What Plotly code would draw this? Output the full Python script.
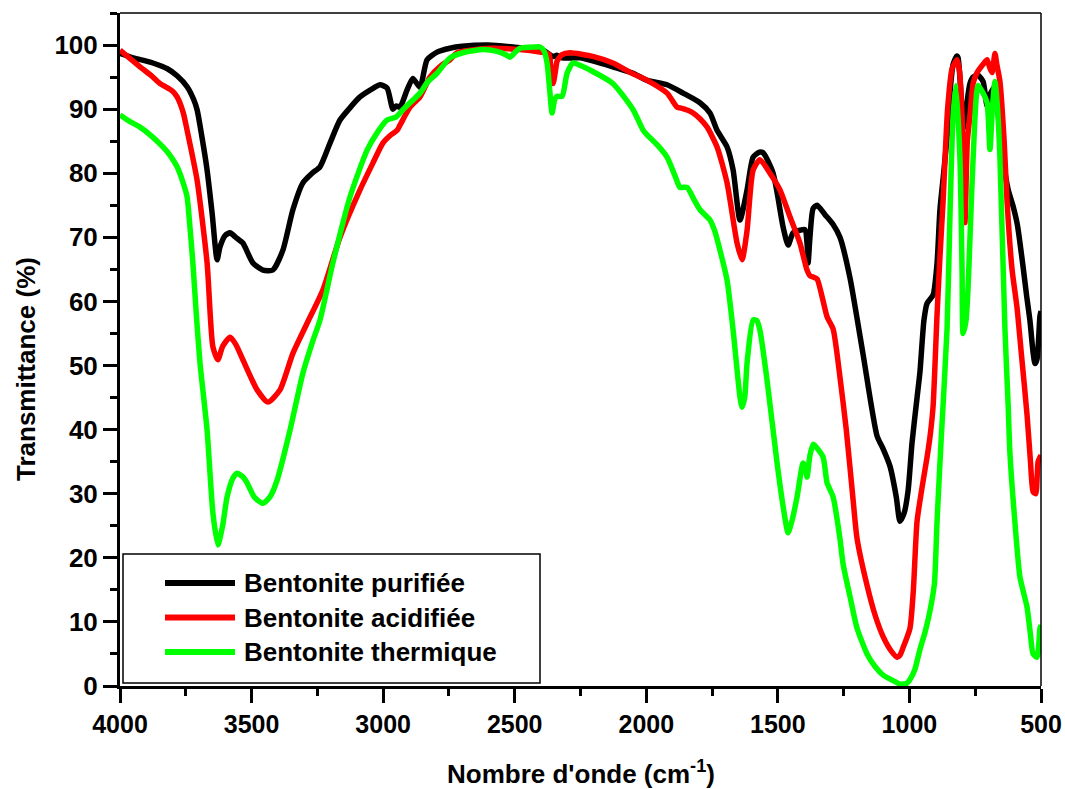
import plotly.graph_objects as go

# ---------------- data ----------------
wn_purifiee = [4000, 3950, 3900, 3875, 3820, 3783, 3745, 3720, 3707, 3690, 3669, 3650, 3631, 3620, 3600,
               3582, 3560, 3533, 3495, 3457, 3419, 3381, 3343, 3305, 3270, 3240, 3202, 3164, 3120, 3088,
               3040, 3012, 2985, 2963, 2950, 2936, 2909, 2887, 2860, 2833, 2795, 2746, 2700, 2600, 2507,
               2420, 2393, 2370, 2354, 2340, 2320, 2252, 2200, 2127, 2050, 1997, 1921, 1860, 1796, 1758,
               1731, 1693, 1670, 1644, 1617, 1594, 1570, 1556, 1518, 1480, 1461, 1442, 1416, 1397, 1389,
               1385, 1378, 1366, 1351, 1320, 1290, 1264, 1226, 1176, 1123, 1100, 1074, 1050, 1036, 1020,
               1005, 990, 971, 960, 945, 933, 910, 895, 884, 870, 857, 845, 834, 820, 815,
               805, 796, 785, 770, 758, 740, 720, 705, 694, 675, 660, 645, 625, 607, 590,
               569, 555, 542, 530, 523, 515, 504, 500]
T_purifiee = [98.7, 98.0, 97.5, 97.2, 96.3, 95.2, 93.5, 91.5, 89.9, 86.0, 80.5, 73.8, 66.5, 68.5, 70.3,
              70.7, 70.0, 69.1, 66.0, 64.9, 64.9, 68.0, 74.3, 78.5, 80.0, 81.0, 84.7, 88.3, 90.5, 91.9,
              93.2, 93.8, 93.3, 90.0, 90.5, 90.3, 93.0, 94.8, 93.4, 97.7, 98.9, 99.5, 99.8, 100.0, 99.7,
              99.3, 99.2, 98.6, 98.2, 98.4, 98.0, 98.0, 97.5, 96.6, 95.6, 94.5, 93.8, 92.5, 91.0, 89.4,
              86.7, 84.1, 80.5, 72.7, 77.4, 82.5, 83.3, 83.2, 80.0, 71.6, 68.8, 70.7, 71.1, 71.2, 69.0,
              66.0, 70.0, 74.5, 75.0, 73.5, 72.0, 70.0, 63.7, 51.7, 39.0, 37.0, 34.3, 29.5, 25.7, 27.0,
              30.5, 38.0, 45.0, 49.0, 57.0, 59.7, 61.0, 66.0, 74.3, 80.0, 85.7, 93.0, 97.0, 98.3, 98.0,
              93.0, 87.0, 90.0, 94.0, 95.0, 95.3, 94.3, 90.5, 92.3, 93.5, 88.0, 82.3, 77.5, 75.0, 72.0,
              65.7, 61.0, 57.0, 52.0, 50.3, 51.0, 57.7, 58.5]

wn_acidifiee = [4000, 3950, 3924, 3880, 3848, 3800, 3783, 3760, 3745, 3707, 3669, 3647, 3628, 3610, 3582,
                3560, 3533, 3479, 3438, 3392, 3343, 3289, 3229, 3164, 3088, 3040, 3001, 2970, 2947, 2936,
                2898, 2860, 2822, 2780, 2746, 2719, 2594, 2480, 2404, 2370, 2362, 2354, 2345, 2339, 2320,
                2290, 2200, 2127, 2050, 1997, 1921, 1883, 1872, 1840, 1822, 1796, 1769, 1731, 1693, 1655,
                1636, 1617, 1594, 1568, 1530, 1492, 1454, 1416, 1390, 1378, 1366, 1351, 1313, 1290, 1264,
                1240, 1214, 1199, 1161, 1130, 1100, 1070, 1047, 1036, 1024, 998, 985, 971, 950, 933,
                920, 910, 895, 884, 872, 855, 838, 819, 810, 800, 789, 780, 770, 758, 743,
                720, 705, 695, 686, 675, 668, 656, 640, 629, 610, 591, 575, 553, 540, 530,
                520, 511, 500]
T_acidifiee = [99.2, 97.5, 96.6, 95.2, 94.0, 92.8, 91.9, 89.5, 86.7, 78.9, 66.0, 52.9, 50.9, 53.0, 54.4,
               53.3, 50.9, 46.2, 44.3, 46.2, 51.9, 56.6, 61.8, 70.0, 77.4, 81.5, 84.7, 86.0, 86.7, 87.5,
               90.3, 91.9, 95.0, 96.8, 97.7, 98.8, 99.5, 99.3, 98.9, 98.6, 96.0, 94.0, 96.0, 97.5, 98.5,
               98.8, 98.2, 97.2, 95.5, 94.5, 92.5, 90.3, 90.2, 89.8, 89.4, 88.5, 87.2, 84.1, 78.5, 69.1,
               66.5, 71.1, 80.5, 82.1, 80.0, 77.4, 73.2, 69.1, 65.0, 64.0, 63.8, 63.5, 57.6, 55.7, 48.2,
               40.0, 29.0, 23.0, 15.7, 11.0, 7.7, 5.5, 4.5, 4.8, 6.0, 9.0, 15.0, 25.7, 31.5, 35.7,
               39.5, 43.7, 58.0, 67.0, 75.7, 90.0, 96.3, 97.7, 96.0, 89.0, 72.3, 85.0, 89.0, 94.0, 95.7,
               97.0, 97.7, 96.5, 95.7, 98.7, 97.0, 94.3, 85.0, 75.7, 65.0, 59.0, 52.0, 42.3, 35.0, 30.3,
               30.0, 35.0, 36.0]

wn_thermique = [4000, 3960, 3924, 3880, 3837, 3810, 3783, 3760, 3745, 3735, 3723, 3710, 3696, 3669, 3647,
                3628, 3610, 3593, 3570, 3555, 3530, 3517, 3490, 3457, 3430, 3403, 3354, 3305, 3270, 3240,
                3191, 3126, 3061, 3020, 2985, 2950, 2925, 2890, 2860, 2830, 2795, 2746, 2697, 2620, 2567,
                2530, 2518, 2500, 2480, 2420, 2404, 2390, 2377, 2367, 2358, 2348, 2339, 2320, 2301, 2279,
                2250, 2200, 2127, 2050, 2012, 1997, 1960, 1921, 1890, 1872, 1845, 1820, 1796, 1758, 1740,
                1720, 1693, 1670, 1644, 1636, 1626, 1617, 1594, 1580, 1568, 1541, 1503, 1480, 1461, 1445,
                1427, 1404, 1395, 1389, 1378, 1366, 1359, 1328, 1313, 1290, 1264, 1252, 1226, 1199, 1161,
                1130, 1100, 1060, 1036, 1010, 998, 980, 960, 940, 922, 905, 895, 880, 857, 845,
                834, 823, 808, 800, 796, 785, 777, 768, 758, 739, 720, 705, 694, 685, 675,
                665, 656, 637, 625, 618, 600, 580, 553, 540, 530, 515, 504, 500]
T_thermique = [89.1, 88.0, 87.2, 85.8, 84.1, 82.8, 81.0, 78.5, 76.3, 72.0, 66.0, 58.0, 50.4, 39.9, 27.0,
               22.0, 25.0, 29.5, 32.5, 33.2, 32.5, 31.7, 29.5, 28.5, 29.5, 32.1, 39.9, 48.8, 53.5, 57.1,
               66.0, 76.3, 83.6, 86.5, 88.3, 88.8, 89.9, 91.3, 92.5, 94.3, 95.6, 98.0, 98.8, 99.3, 99.0,
               98.4, 98.1, 98.8, 99.5, 99.7, 99.7, 99.2, 97.2, 93.0, 89.4, 91.5, 92.0, 92.0, 95.6, 97.2,
               96.8, 95.8, 94.0, 89.9, 86.7, 86.0, 84.5, 82.5, 79.5, 77.8, 77.8, 76.0, 74.3, 72.7, 71.0,
               68.0, 63.3, 55.5, 45.1, 43.5, 45.0, 50.4, 57.1, 57.0, 55.5, 47.7, 34.8, 28.0, 23.9, 26.0,
               29.5, 34.8, 34.0, 32.6, 36.0, 37.7, 37.5, 35.7, 31.7, 29.5, 23.0, 19.0, 14.0, 9.0, 5.0,
               3.0, 1.7, 0.8, 0.3, 0.4, 1.0, 2.5, 5.7, 8.5, 11.7, 16.0, 25.7, 38.0, 55.7, 75.0,
               89.0, 93.7, 82.3, 65.0, 55.0, 57.0, 62.3, 72.0, 82.3, 93.7, 92.5, 91.0, 83.7, 90.0, 94.3,
               90.0, 82.3, 55.7, 44.0, 36.3, 26.0, 17.0, 12.3, 8.0, 5.0, 4.5, 9.0, 9.5]

series_names = ["Bentonite purifiée", "Bentonite acidifiée", "Bentonite thermique"]
series_colors = ["#000000", "#FF0000", "#00FF00"]

x_range = [4000, 500]
y_range = [0, 105]

FONT = "Liberation Sans, Arial, Helvetica, sans-serif"

fig = go.Figure()
for wn, T, name, col in zip([wn_purifiee, wn_acidifiee, wn_thermique],
                            [T_purifiee, T_acidifiee, T_thermique],
                            series_names, series_colors):
    fig.add_trace(go.Scatter(x=wn, y=T, mode="lines", name=name,
                             line=dict(color=col, width=5.5, shape="spline", smoothing=0.6),
                             showlegend=False))

# plot-area pixel geometry
L, R, TOP, BOT = 120, 1041, 13, 686
W, H = 1065, 789
def px_x(p):
    return (p - L) / (R - L)
def px_y(p):
    return (BOT - p) / (BOT - TOP)

fig.update_layout(
    width=W, height=H,
    margin=dict(l=L, r=W - R, t=TOP, b=H - BOT, pad=0, autoexpand=False),
    paper_bgcolor="white", plot_bgcolor="white",
    font=dict(family=FONT, color="black"),
    showlegend=False,
)

fig.update_xaxes(range=x_range, autorange=False, automargin=False, tick0=500, dtick=500,
                 ticks="outside", ticklen=14, tickwidth=2.5, tickcolor="black",
                 tickfont=dict(family=FONT, size=25, color="black", weight="bold"),
                 showline=True, linewidth=3, linecolor="black",
                 showgrid=False, zeroline=False,
                 minor=dict(tick0=500, dtick=250, ticks="outside", ticklen=7, tickwidth=2.5,
                            tickcolor="black", showgrid=False))
fig.update_yaxes(range=y_range, autorange=False, automargin=False, tick0=0, dtick=10,
                 ticks="outside", ticklen=14, tickwidth=2.5, tickcolor="black",
                 tickfont=dict(family=FONT, size=26, color="black", weight="bold"),
                 showline=True, linewidth=3, linecolor="black",
                 showgrid=False, zeroline=False,
                 minor=dict(tick0=0, dtick=5, ticks="outside", ticklen=7, tickwidth=2.5,
                            tickcolor="black", showgrid=False))

# thin top and right frame lines
fig.add_shape(type="line", xref="paper", yref="paper", x0=0, x1=1, y0=1, y1=1,
              line=dict(color="black", width=1.5))
fig.add_shape(type="line", xref="paper", yref="paper", x0=1, x1=1, y0=0, y1=1,
              line=dict(color="black", width=1.5))

# axis titles
fig.add_annotation(text="Nombre d'onde (cm<sup>-1</sup>)", xref="paper", yref="paper",
                   x=px_x(581), y=px_y(772), showarrow=False, xanchor="center", yanchor="middle",
                   font=dict(family=FONT, size=26, color="black", weight="bold"))
fig.add_annotation(text="Transmittance (%)", xref="paper", yref="paper",
                   x=px_x(26), y=px_y(369), showarrow=False, textangle=-90,
                   xanchor="center", yanchor="middle",
                   font=dict(family=FONT, size=26, color="black", weight="bold"))

# legend box (drawn manually to match the long line samples)
fig.add_shape(type="rect", xref="paper", yref="paper",
              x0=px_x(123), x1=px_x(540), y0=px_y(683), y1=px_y(554),
              line=dict(color="black", width=1.5), fillcolor="white", layer="above")
for i, (name, col) in enumerate(zip(series_names, series_colors)):
    yc = 583 + i * 34.5
    fig.add_shape(type="line", xref="paper", yref="paper",
                  x0=px_x(165), x1=px_x(235), y0=px_y(yc), y1=px_y(yc),
                  line=dict(color=col, width=6), layer="above")
    fig.add_annotation(text=name, xref="paper", yref="paper",
                       x=px_x(242), y=px_y(yc), showarrow=False,
                       xanchor="left", yanchor="middle",
                       font=dict(family=FONT, size=26, color="black", weight="bold"))

fig.write_html("out.html")
